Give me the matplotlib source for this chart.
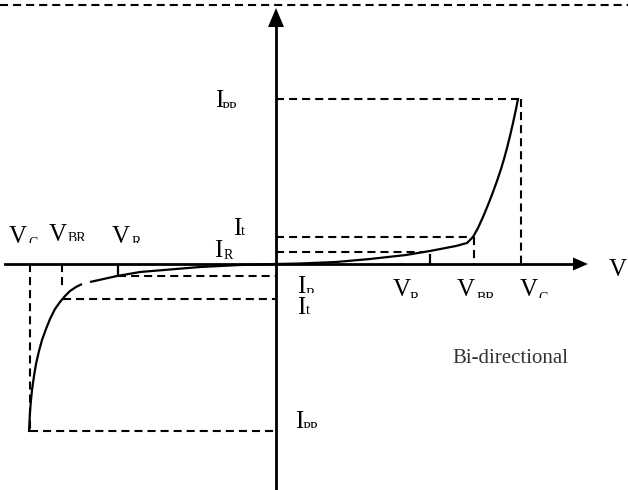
import matplotlib
matplotlib.use("Agg")
import matplotlib.pyplot as plt
from matplotlib.patches import Rectangle, Polygon

plt.rcParams['lines.scale_dashes'] = False
plt.rcParams['font.family'] = ['Liberation Serif', 'DejaVu Serif']

# ---- characteristic data (voltage, current) in diagram units ----
# forward (positive) branch
fwd_v = [0, 24, 60, 94, 130, 154, 180, 191, 197, 202, 207, 212, 217, 221, 225,
         228, 231, 234, 237, 240, 242]
fwd_i = [0, 0.5, 2, 5, 9, 13, 18, 21, 27, 36, 47, 59, 72, 83, 95,
         105, 116, 128, 141, 155, 165]
# reverse branch, inner (low current) part
rev_in_v = [0, -36, -76, -136, -159, -186]
rev_in_i = [0, -1, -3, -8, -12, -18]
# reverse branch, breakdown part
rev_out_v = [-194, -200, -206, -211, -216, -221, -226, -230, -234, -237,
             -240, -242, -244, -245, -246, -247]
rev_out_i = [-20, -23, -27, -32, -38, -45, -55, -65, -76, -87,
             -100, -112, -126, -136, -148, -168]

# key levels
V_R_pos, V_BR_pos, V_C_pos = 154, 198, 245
I_R_pos, I_t_pos, I_PP_pos = 12, 27, 165
V_R_neg, V_BR_neg, V_C_neg = -158, -214, -246
I_R_neg, I_t_neg, I_PP_neg = -12, -35, -167

# ---- figure ----
fig = plt.figure(figsize=(6.28, 4.9), dpi=100)
ax = fig.add_axes([0, 0, 1, 1])
ax.set_xlim(-276, 352)
ax.set_ylim(-226, 264)
ax.axis('off')

K = 'black'
dash = dict(color=K, lw=1.5, linestyle=(0, (5.8, 3.6)))
solid = dict(color=K, lw=1.6, solid_capstyle='butt', solid_joinstyle='round')

# top border dashed
ax.plot([-276, 352], [259, 259], **dash)

# axes
ax.plot([-271, 300], [0, 0], color=K, lw=2.0)
ax.add_patch(Polygon([[312, 0], [297, 6.5], [297, -6.5]], closed=True, color=K, lw=0))
ax.plot([0, 0], [-226, 240], color=K, lw=2.0)
ax.add_patch(Polygon([[0, 256], [-8, 237], [8, 237]], closed=True, color=K, lw=0))

# curves
ax.plot(fwd_v, fwd_i, **solid)
ax.plot(rev_in_v, rev_in_i, **solid)
ax.plot(rev_out_v, rev_out_i, **solid)

# forward dashed guides
ax.plot([0, V_C_pos], [I_PP_pos, I_PP_pos], **dash)
ax.plot([V_C_pos, V_C_pos], [I_PP_pos, 0], **dash)
ax.plot([0, V_BR_pos - 1], [I_t_pos, I_t_pos], **dash)
ax.plot([V_BR_pos, V_BR_pos], [I_t_pos, 0], **dash)
ax.plot([0, V_R_pos - 5], [I_R_pos, I_R_pos], **dash)
ax.plot([V_R_pos, V_R_pos], [0, 10], **solid)

# reverse dashed guides
ax.plot([V_C_neg, V_C_neg], [0, I_PP_neg - 2], **dash)
ax.plot([V_C_neg, 0], [I_PP_neg, I_PP_neg], **dash)
ax.plot([V_BR_neg, V_BR_neg], [0, -22], **dash)
ax.plot([V_BR_neg + 1, 0], [I_t_neg, I_t_neg], **dash)
ax.plot([V_R_neg, 0], [I_R_neg, I_R_neg], **dash)
ax.plot([V_R_neg, V_R_neg], [0, I_R_neg], **solid)

MAIN = 18
SUB = 10


def label(main, mx, my, sub, sx, sy, clip=None):
    ax.text(mx, my, main, fontsize=MAIN, ha='left', va='baseline', color=K)
    t = ax.text(sx, sy, sub, fontsize=SUB, ha='left', va='baseline', color=K)
    if clip is not None:
        r = Rectangle((-400, clip), 900, 500, transform=ax.transData,
                      facecolor='none', edgecolor='none')
        t.set_clip_on(True)
        t.set_clip_path(r)


# left side labels
label('V', -267, 21, 'C', -248, 17, clip=21)
label('V', -227, 23, 'BR', -208, 22, clip=23)
label('V', -164, 21, 'R', -144, 18, clip=21)
label('I', -43, 29, 't', -35, 29)
label('I', -62, 7, 'R', -52, 5)
label('I', -61, 157, 'PP', -54, 152, clip=156)

# right side labels
label('I', 21, -29, 'R', 30, -34, clip=-29)
label('I', 21, -50, 't', 30, -50)
label('I', 19, -164, 'PP', 27, -168, clip=-164)
label('V', 117, -32, 'R', 134, -38, clip=-34)
label('V', 181, -32, 'BR', 201, -38, clip=-34)
label('V', 244, -32, 'C', 262, -38, clip=-34)

ax.text(333, -12, 'V', fontsize=MAIN, ha='left', va='baseline', color=K)
ax.text(176, -99, 'Bi-directional', fontsize=15, ha='left', va='baseline',
        color='#333333')

fig.savefig('out.png', dpi=100)
